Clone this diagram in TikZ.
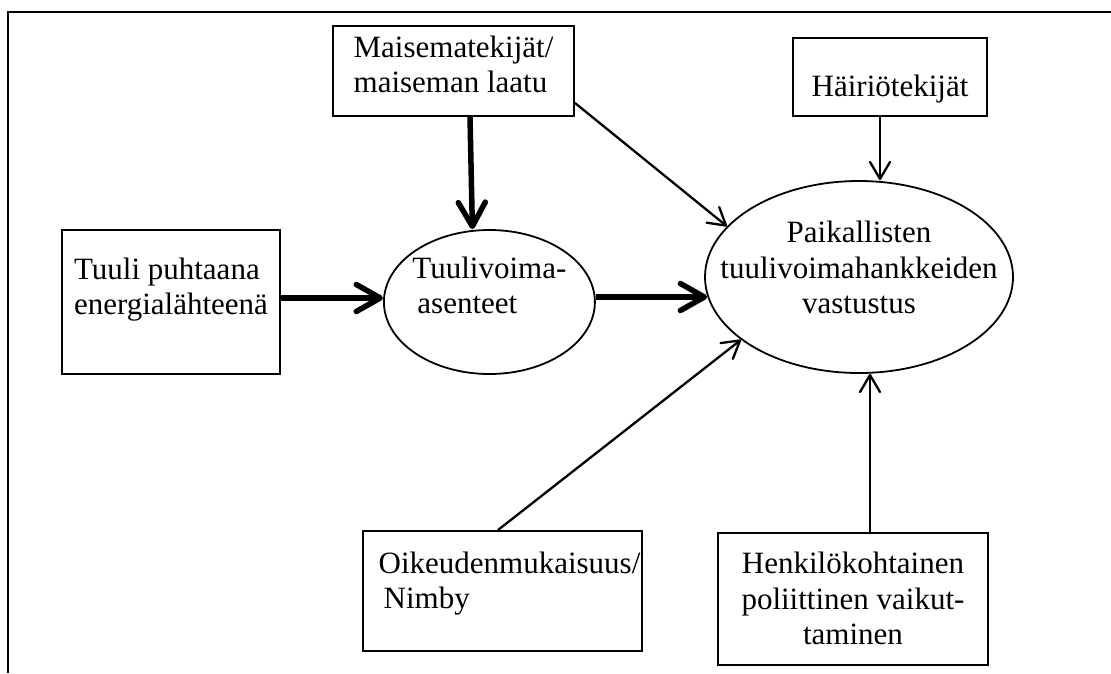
\documentclass[tikz,border=0pt]{standalone}
\usepackage{fontspec}
\setmainfont{Liberation Serif}
\usetikzlibrary{shapes.geometric}
\usetikzlibrary{arrows.meta}
\usetikzlibrary{positioning}
\newcommand{\boxtext}[3]{\makebox[0pt]{\raisebox{#1}[\height][\depth]{\begin{tabular}{@{}#2@{}}#3\end{tabular}}}}

\begin{document}
\begin{tikzpicture}[x=1pt,y=-1pt,font=\fontsize{31}{35.5}\selectfont]
 \tikzstyle{box node}=[rectangle,draw,line width=2pt,inner sep=0pt]
 \tikzstyle{oval node}=[ellipse,draw,line width=1.8pt,inner sep=0pt]
 \tikzset{
 	thick link/.style={line width=5.5pt,-{Straight Barb[length=24pt,width=27pt,round]}},
 	thin link/.style={line width=2.3pt,-{Straight Barb[length=17pt,width=20pt,round]}},
 	frame line/.style={line width=2.6pt}
 }
 \useasboundingbox (0,0) rectangle (1111,673);
 \draw[frame line] (8,673) -- (8,12) -- (1111,12);

       \node[box node,minimum width=218pt,minimum height=144pt] (tuuli) at (171,302) {\boxtext{12pt}{l}{Tuuli puhtaana\\energialähteenä}};
       \node[oval node,minimum width=211pt,minimum height=144pt] (asenne) [right=102pt of tuuli] {\boxtext{13pt}{l}{Tuulivoima-\\\hspace*{5pt}asenteet}};
       \node[box node,minimum width=241pt,minimum height=90pt] (maisema) at (453.5,71) {\boxtext{3pt}{l}{Maisematekijät/\\maiseman laatu}};
       \node[oval node,minimum width=308pt,minimum height=192pt] (vastustus) at (859,277) {\boxtext{6pt}{c}{Paikallisten\\tuulivoimahankkeiden\\vastustus}};
       \node[box node,minimum width=194pt,minimum height=78pt] (hairio) at (890,77) {\boxtext{-12pt}{c}{Häiriötekijät}};
       \node[box node,minimum width=279pt,minimum height=120pt] (nimby) at (502.5,591) {\boxtext{7pt}{l}{\hspace*{14pt}Oikeudenmukaisuus/\\\hspace*{19pt}Nimby}};
       \node[box node,minimum width=270pt,minimum height=132pt] (politiikka) at (853,599) {\boxtext{-3pt}{c}{Henkilökohtainen\\poliittinen vaikut-\\taminen}};

     \path[thick link] ([xshift=16.5pt]maisema.south) edge ([xshift=-17pt]asenne.north);
     \path[thick link] ([yshift=4pt]tuuli.east) edge ([yshift=4pt]asenne.west);
     \path[thick link] ([yshift=5pt]asenne.east) edge ([xshift=3pt,yshift=-20pt]vastustus.west);

     \path[thin link] ([yshift=-32pt]maisema.east) edge (vastustus.159);
     \path[thin link] ([xshift=-10pt]hairio.south) edge ([xshift=21pt]vastustus.north);
     \path[thin link] ([xshift=-4.5pt]nimby.north) edge (vastustus.208);
     \path[thin link] ([xshift=17pt]politiikka.north) edge ([xshift=11pt]vastustus.south);
 \end{tikzpicture}
\end{document}
